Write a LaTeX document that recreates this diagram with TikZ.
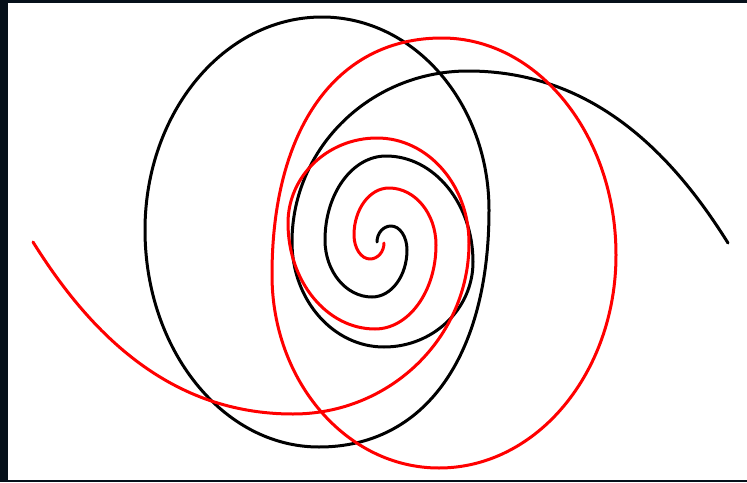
\documentclass[tikz,border=0pt]{standalone}
\usetikzlibrary{calc}
\newcommand\qk{0.5523}
\newcommand\qkb{0.62}
\newcommand\spiralfig[2]{%
 \coordinate (#1S) at (377,242);
 \coordinate (#1T1) at (391,226);
 \coordinate (#1R1) at (407,250);
 \coordinate (#1B1) at (372,297);
 \coordinate (#1L1) at (325,240);
 \coordinate (#1T2) at (386,156);
 \coordinate (#1R2) at (473,262);
 \coordinate (#1B2) at (384,347);
 \coordinate (#1L2) at (292,242);
 \coordinate (#1T3) at (468,71);
 \coordinate (#1C1) at (590,71);
 \coordinate (#1C2) at (670,150);
 \coordinate (#1E) at (728,243);
 \coordinate (#1LT) at (322,17);
 \coordinate (#1LR) at (489,210);
 \coordinate (#1LB) at (319,447);
 \coordinate (#1LL) at (145,230);
 \draw[#2] (#1S)
  .. controls ($(#1S)!\qk!(#1S|-#1T1)$) and ($(#1T1)!\qk!(#1S|-#1T1)$) .. (#1T1)
  .. controls ($(#1T1)!\qk!(#1T1-|#1R1)$) and ($(#1R1)!\qk!(#1T1-|#1R1)$) .. (#1R1)
  .. controls ($(#1R1)!\qk!(#1R1|-#1B1)$) and ($(#1B1)!\qk!(#1R1|-#1B1)$) .. (#1B1)
  .. controls ($(#1B1)!\qk!(#1B1-|#1L1)$) and ($(#1L1)!\qk!(#1B1-|#1L1)$) .. (#1L1)
  .. controls ($(#1L1)!\qk!(#1L1|-#1T2)$) and ($(#1T2)!\qk!(#1L1|-#1T2)$) .. (#1T2)
  .. controls ($(#1T2)!\qk!(#1T2-|#1R2)$) and ($(#1R2)!\qk!(#1T2-|#1R2)$) .. (#1R2)
  .. controls ($(#1R2)!\qk!(#1R2|-#1B2)$) and ($(#1B2)!\qk!(#1R2|-#1B2)$) .. (#1B2)
  .. controls ($(#1B2)!\qk!(#1B2-|#1L2)$) and ($(#1L2)!\qk!(#1B2-|#1L2)$) .. (#1L2)
  .. controls ($(#1L2)!\qk!(#1L2|-#1T3)$) and ($(#1T3)!\qk!(#1L2|-#1T3)$) .. (#1T3)
  .. controls (#1C1) and (#1C2) .. (#1E);
 \draw[#2] (#1LT)
  .. controls ($(#1LT)!\qk!(#1LT-|#1LR)$) and ($(#1LR)!\qk!(#1LT-|#1LR)$) .. (#1LR)
  .. controls ($(#1LR)!\qkb!(#1LR|-#1LB)$) and ($(#1LB)!\qkb!(#1LR|-#1LB)$) .. (#1LB)
  .. controls ($(#1LB)!\qk!(#1LB-|#1LL)$) and ($(#1LL)!\qk!(#1LB-|#1LL)$) .. (#1LL)
  .. controls ($(#1LL)!\qk!(#1LL|-#1LT)$) and ($(#1LT)!\qk!(#1LL|-#1LT)$) .. cycle;
}
\begin{document}
\begin{tikzpicture}[x=1pt,y=-1pt]
\definecolor{frame}{HTML}{06101A}
\tikzset{
  curve/.style={line width=3pt, line cap=round, line join=round},
  blackcurve/.style={curve, draw=black},
  redcurve/.style={curve, draw=red}
}
\useasboundingbox (0,0) rectangle (747,482);
\fill[frame] (0,0) rectangle (747,482);
\fill[white] (8,3) rectangle (747,480);
\coordinate (ctr) at (380.5,242.5);
\spiralfig{b}{blackcurve}
\begin{scope}[rotate around={180:(ctr)}]
\spiralfig{r}{redcurve}
\end{scope}
\end{tikzpicture}
\end{document}
